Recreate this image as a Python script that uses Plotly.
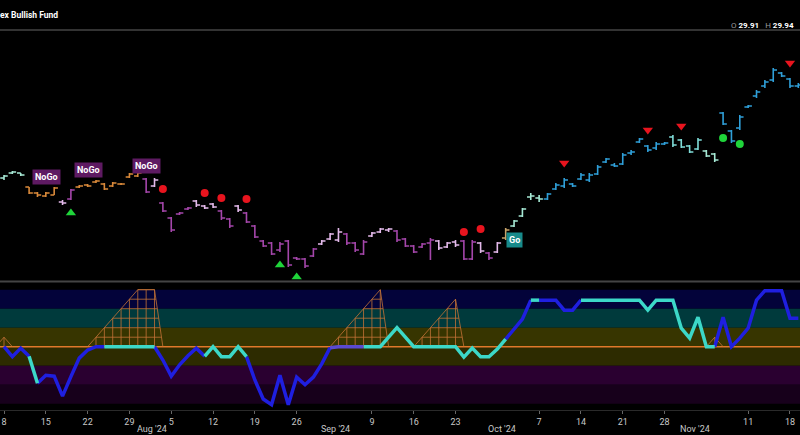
import plotly.graph_objects as go

# ---------------- data ----------------
bar_index = list(range(96))  # trading days from 8 Jul 2024 to 19 Nov 2024

opens = [28.99, 29.04, 29.04, 28.90, 28.84, 28.81, 28.82, 28.75, 28.78, 28.90,
         28.92, 28.95, 28.93, 28.91, 28.93, 29.00, 29.01, 28.98, 28.91, 28.74,
         28.59, 28.63, 28.68, 28.76, 28.71, 28.73, 28.66, 28.58, 28.71, 28.64,
         28.51, 28.36, 28.34, 28.27, 28.36, 28.19, 28.18, 28.21, 28.33, 28.38,
         28.37, 28.43, 28.34, 28.23, 28.41, 28.45, 28.47, 28.46, 28.38, 28.31,
         28.30, 28.34, 28.36, 28.30, 28.35, 28.36, 28.18, 28.34, 28.24, 28.25,
         28.39, 28.51, 28.61, 28.80, 28.79, 28.78, 28.88, 28.91, 28.93, 28.98,
         28.97, 29.03, 29.15, 29.12, 29.13, 29.24, 29.35, 29.31, 29.29, 29.33,
         29.40, 29.37, 29.31, 29.28, 29.26, 29.23, 29.64, 29.46, 29.49, 29.70,
         29.81, 29.91, 29.97, 30.04, 29.98, 29.91]
highs = [29.02, 29.06, 29.04, 28.90, 28.85, 28.85, 28.90, 28.77, 28.88, 28.92,
         28.93, 28.97, 28.94, 28.95, 28.94, 29.04, 29.05, 28.99, 28.99, 28.75,
         28.60, 28.65, 28.70, 28.77, 28.72, 28.74, 28.67, 28.59, 28.72, 28.65,
         28.52, 28.37, 28.35, 28.35, 28.37, 28.20, 28.19, 28.29, 28.37, 28.44,
         28.49, 28.44, 28.35, 28.37, 28.45, 28.49, 28.49, 28.47, 28.39, 28.32,
         28.34, 28.39, 28.37, 28.35, 28.37, 28.37, 28.37, 28.35, 28.25, 28.35,
         28.49, 28.57, 28.69, 28.84, 28.82, 28.84, 28.94, 28.99, 28.94, 29.04,
         29.04, 29.12, 29.19, 29.14, 29.24, 29.27, 29.39, 29.32, 29.35, 29.35,
         29.42, 29.38, 29.32, 29.39, 29.27, 29.24, 29.65, 29.47, 29.62, 29.72,
         29.87, 29.97, 30.09, 30.05, 29.99, 29.94]
lows = [28.97, 29.03, 29.01, 28.83, 28.80, 28.80, 28.82, 28.72, 28.77, 28.89,
        28.90, 28.94, 28.87, 28.90, 28.92, 28.99, 29.00, 28.84, 28.90, 28.65,
        28.45, 28.62, 28.67, 28.70, 28.68, 28.69, 28.57, 28.49, 28.65, 28.54,
        28.39, 28.30, 28.22, 28.25, 28.10, 28.17, 28.09, 28.20, 28.32, 28.37,
        28.35, 28.32, 28.25, 28.22, 28.40, 28.44, 28.45, 28.35, 28.30, 28.24,
        28.29, 28.17, 28.27, 28.29, 28.30, 28.17, 28.17, 28.24, 28.17, 28.24,
        28.37, 28.50, 28.60, 28.77, 28.75, 28.77, 28.87, 28.89, 28.90, 28.97,
        28.95, 29.02, 29.14, 29.10, 29.12, 29.22, 29.34, 29.25, 29.27, 29.32,
        29.30, 29.29, 29.24, 29.27, 29.20, 29.15, 29.52, 29.34, 29.47, 29.69,
        29.79, 29.89, 29.95, 30.00, 29.89, 29.89]
closes = [29.01, 29.05, 29.02, 28.84, 28.82, 28.84, 28.89, 28.74, 28.87, 28.91,
          28.91, 28.96, 28.88, 28.94, 28.93, 29.03, 29.04, 28.85, 28.97, 28.66,
          28.47, 28.64, 28.69, 28.72, 28.69, 28.70, 28.59, 28.51, 28.67, 28.55,
          28.40, 28.31, 28.23, 28.33, 28.12, 28.18, 28.11, 28.28, 28.36, 28.43,
          28.45, 28.34, 28.27, 28.35, 28.44, 28.48, 28.48, 28.37, 28.31, 28.25,
          28.33, 28.37, 28.29, 28.34, 28.32, 28.18, 28.35, 28.26, 28.19, 28.34,
          28.47, 28.56, 28.68, 28.81, 28.78, 28.83, 28.92, 28.97, 28.91, 29.02,
          29.02, 29.10, 29.18, 29.11, 29.22, 29.25, 29.38, 29.27, 29.33, 29.34,
          29.32, 29.30, 29.25, 29.37, 29.21, 29.17, 29.53, 29.36, 29.60, 29.71,
          29.85, 29.95, 30.07, 30.01, 29.91, 29.92]

# GoNoGo trend state per bar, as (state, number of bars)
trend_runs = [("A", 3), ("O", 4), ("L", 1), ("P", 1), ("O", 8), ("P", 1), ("L", 1),
              ("P", 4), ("L", 3), ("P", 2), ("L", 1), ("P", 9), ("L", 3), ("P", 3),
              ("L", 3), ("P", 5), ("L", 3), ("P", 2), ("L", 1), ("P", 1), ("L", 1),
              ("T", 1), ("A", 4), ("B", 15), ("Q", 4), ("A", 2), ("B", 10)]

# oscillator values
osc = [0, -1.05, -0.15, -1.0, -3.85, -3.0, -3.1, -5.2, -3.15, -1.2,
       -0.35, 0, 0, 0, 0, 0, 0, 0, 0, -1.4,
       -3.1, -1.9, -0.95, -0.15, -1.0, 0, -1.05, -1.05, 0, -1.05,
       -3.5, -5.5, -6.1, -3.0, -6.1, -3.2, -4.0, -3.2, -1.8, -0.1,
       0, 0, 0, 0, 0, 0, 1.0, 2.0, 1.0, 0,
       0, 0, 0, 0, 0, -1.1, -0.15, -1.05, -1.05, -0.25,
       0.8, 1.8, 2.9, 4.9, 4.9, 4.9, 4.9, 3.85, 3.85, 4.9,
       4.9, 4.9, 4.9, 4.9, 4.9, 4.9, 4.9, 3.85, 4.9, 4.9,
       4.9, 1.95, 0.9, 3.1, 0, 0, 3.1, 0, 0.9, 1.95,
       4.9, 5.9, 5.9, 5.9, 3.0, 3.0]
osc_runs = [("B", 4), ("A", 1), ("B", 8), ("A", 6), ("B", 6), ("A", 5), ("B", 10),
            ("V", 4), ("A", 17), ("B", 3), ("A", 1), ("B", 5), ("A", 16), ("B", 10)]

# squeeze (max-squeeze grid) level per bar
squeeze = ([1] + [0] * 10 + [1, 2, 3, 4, 5, 6, 6, 6] + [0] * 21 + [1, 2, 3, 4, 5, 6]
           + [0] * 4 + [1, 2, 3, 4, 5] + [0] * 30 + [1] + [0] * 10)

# signal markers
go_tri_x, go_tri_y = [8, 33, 35], [28.64, 28.12, 28.00]
nogo_dot_x, nogo_dot_y = [19, 24, 26, 29, 55, 57], [28.88, 28.84, 28.79, 28.78, 28.45, 28.48]
nogo_tri_x, nogo_tri_y = [67, 77, 81, 94], [29.14, 29.47, 29.51, 30.14]
go_dot_x, go_dot_y = [86, 88], [29.39, 29.33]

# labels
nogo_label_x, nogo_label_y = [5.1, 10.05, 17.0], [29.00, 29.07, 29.11]
go_label_x, go_label_y = [61.0], [28.37]

tick_vals = [0, 5, 10, 15, 20, 25, 30, 35, 44, 49, 54, 64, 69, 74, 79, 89, 94]
tick_text = ["8", "15", "22", "29", "5", "12", "19", "26", "9", "16", "23",
             "7", "14", "21", "28", "11", "18"]
month_vals = [17.7, 39.7, 59.6, 82.7]
month_text = ["Aug '24", "Sep '24", "Oct '24", "Nov '24"]

title_text = "ex Bullish Fund"

# ---------------- styling ----------------
bar_colors = {"A": "#a6e9d5", "O": "#d9893a", "L": "#e3b9ea", "P": "#a446aa",
              "T": "#c9a46a", "B": "#2f9fd8", "Q": "#7fdcd8"}
osc_colors = {"B": "#1f1fe0", "A": "#3cd8c8", "V": "#5a4ad0"}


def expand(runs):
    out = []
    for code, n in runs:
        out += [code] * n
    return out


trend = expand(trend_runs)
osc_state = expand(osc_runs)

fig = go.Figure()

# oscillator background bands
bands = [(4, 6, "#03033a"), (2, 4, "#003a3c"), (0, 2, "#373500"),
         (-2, 0, "#2d2b00"), (-4, -2, "#2a0030"), (-6, -4, "#17001b")]
shapes = []
for y0, y1, col in bands:
    shapes.append(dict(type="rect", xref="paper", x0=0, x1=1, yref="y2", y0=y0, y1=y1,
                       fillcolor=col, line=dict(width=0), layer="below"))
shapes.append(dict(type="line", xref="paper", x0=0, x1=1, yref="y2", y0=0, y1=0,
                   line=dict(color="#e0782a", width=1.5), layer="below"))
# panel separators
shapes.append(dict(type="line", xref="paper", x0=0, x1=1, yref="paper", y0=0.927, y1=0.927,
                   line=dict(color="#333333", width=2)))
shapes.append(dict(type="line", xref="paper", x0=0, x1=1, yref="paper", y0=0.3167, y1=0.3167,
                   line=dict(color="#444444", width=2)))

# squeeze grid
mx, my = [], []
i = 0
n = len(squeeze)
while i < n:
    if squeeze[i] > 0:
        a = i
        while i < n and squeeze[i] > 0:
            i += 1
        b = i - 1
        seg = squeeze[a:b + 1]
        mx += [a - 1] + list(range(a, b + 1)) + [b + 1, None]
        my += [0] + seg + [0, None]
        for j in range(a, b + 1):
            mx += [j, j, None]
            my += [0, squeeze[j], None]
        top = squeeze[b]
        for k in range(1, int(max(seg)) + 1):
            first = next(j for j in range(a, b + 1) if squeeze[j] >= k)
            right = b + (top - k) / top
            mx += [first, right, None]
            my += [k, k, None]
    else:
        i += 1
fig.add_trace(go.Scatter(x=mx, y=my, xaxis="x", yaxis="y2", mode="lines",
                         line=dict(color="#c47236", width=0.8), hoverinfo="skip",
                         showlegend=False))

# oscillator line, coloured per state
for code, col in osc_colors.items():
    xs, ys = [], []
    j = 0
    while j < len(osc_state):
        if osc_state[j] == code:
            s = j
            while j < len(osc_state) and osc_state[j] == code:
                j += 1
            e = j - 1
            start = max(s - 1, 0)
            xs += bar_index[start:e + 1] + [None]
            ys += osc[start:e + 1] + [None]
        else:
            j += 1
    fig.add_trace(go.Scatter(x=xs, y=ys, xaxis="x", yaxis="y2", mode="lines",
                             line=dict(color=col, width=3.5), hoverinfo="skip",
                             showlegend=False))

# price bars, one OHLC trace per trend colour
for code, col in bar_colors.items():
    idx = [k for k in bar_index if trend[k] == code]
    if not idx:
        continue
    fig.add_trace(go.Ohlc(
        x=idx, open=[opens[k] for k in idx], high=[highs[k] for k in idx],
        low=[lows[k] for k in idx], close=[closes[k] for k in idx],
        xaxis="x", yaxis="y", tickwidth=0.45,
        increasing=dict(line=dict(color=col, width=1.6)),
        decreasing=dict(line=dict(color=col, width=1.6)),
        hoverinfo="skip", showlegend=False))

# signal markers
fig.add_trace(go.Scatter(x=go_tri_x, y=go_tri_y, mode="markers", xaxis="x", yaxis="y",
                         marker=dict(symbol="triangle-up", size=9, color="#1fd43a"),
                         hoverinfo="skip", showlegend=False))
fig.add_trace(go.Scatter(x=nogo_dot_x, y=nogo_dot_y, mode="markers", xaxis="x", yaxis="y",
                         marker=dict(symbol="circle", size=8, color="#e8141e"),
                         hoverinfo="skip", showlegend=False))
fig.add_trace(go.Scatter(x=nogo_tri_x, y=nogo_tri_y, mode="markers", xaxis="x", yaxis="y",
                         marker=dict(symbol="triangle-down", size=9, color="#e8141e"),
                         hoverinfo="skip", showlegend=False))
fig.add_trace(go.Scatter(x=go_dot_x, y=go_dot_y, mode="markers", xaxis="x", yaxis="y",
                         marker=dict(symbol="circle", size=8, color="#1fd43a"),
                         hoverinfo="skip", showlegend=False))

annotations = []
for x, y in zip(nogo_label_x, nogo_label_y):
    annotations.append(dict(x=x, y=y, xref="x", yref="y", text="<b>NoGo</b>", showarrow=False,
                            font=dict(family="Roboto", size=9, color="white"),
                            bgcolor="#5e1a62", borderpad=2))
for x, y in zip(go_label_x, go_label_y):
    annotations.append(dict(x=x, y=y, xref="x", yref="y", text="<b>Go</b>", showarrow=False,
                            font=dict(family="Roboto", size=9, color="white"),
                            bgcolor="#178a8a", borderpad=2))
for x, t in zip(month_vals, month_text):
    annotations.append(dict(x=x, y=-0.041, xref="x", yref="paper", text=t, showarrow=False,
                            font=dict(family="Roboto", size=9, color="#c8c8c8"),
                            yanchor="middle"))
annotations.append(dict(x=-0.002, y=0.9636, xref="paper", yref="paper", xanchor="left",
                        yanchor="middle", text="<b>" + title_text + "</b>", showarrow=False,
                        font=dict(family="Roboto", size=8.5, color="white")))
annotations.append(dict(x=0.995, y=0.9393, xref="paper", yref="paper", xanchor="right",
                        yanchor="middle", showarrow=False,
                        text=("<span style='color:#9a9a9a'>O</span> <b>%.2f</b>   "
                              "<span style='color:#9a9a9a'>H</span> <b>%.2f</b>")
                        % (opens[-1], highs[-1]),
                        font=dict(family="Roboto", size=8, color="white")))

fig.update_layout(
    width=800, height=435,
    paper_bgcolor="black", plot_bgcolor="black",
    margin=dict(l=0, r=0, t=0, b=23),
    showlegend=False,
    hovermode=False,
    shapes=shapes,
    annotations=annotations,
    xaxis=dict(range=[-0.48, 95.2], anchor="y2", tickmode="array",
               tickvals=tick_vals, ticktext=tick_text,
               tickfont=dict(family="Roboto", size=9, color="#c8c8c8"),
               ticks="outside", ticklen=3, tickcolor="#666666",
               showgrid=False, zeroline=False, showline=True, linecolor="#2a2a2a",
               rangeslider=dict(visible=False)),
    yaxis=dict(domain=[0.3204, 0.9272], range=[27.97, 30.47], visible=False,
               showgrid=False, zeroline=False),
    yaxis2=dict(domain=[0.00485, 0.3131], range=[-6.66, 6.705], visible=False,
                showgrid=False, zeroline=False),
)

fig.write_html("out.html",
               config={"displayModeBar": False, "staticPlot": True},
               post_script="document.body.style.margin='0';"
                           "document.body.style.overflow='hidden';"
                           "document.body.style.background='black';")
